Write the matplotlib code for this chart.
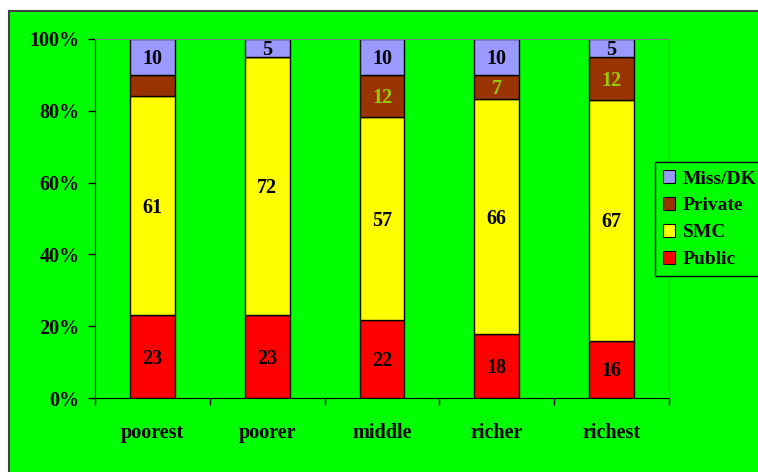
import numpy as np
import matplotlib.pyplot as plt
from matplotlib.patches import Rectangle, Patch

groups = ['poorest', 'poorer', 'middle', 'richer', 'richest']
public = [23, 23, 22, 18, 16]
smc = [61, 72, 57, 66, 67]
private = [6, 0, 12, 7, 12]
missdk = [10, 5, 10, 10, 5]
# which segments carry a value label
private_shown = [False, False, True, True, True]

series = [('Public', public, '#ff0000', 'k'),
          ('SMC', smc, '#ffff00', 'k'),
          ('Private', private, '#993300', '#99cc00'),
          ('Miss/DK', missdk, '#9999ff', 'k')]

plt.rcParams['font.family'] = 'Liberation Serif'
plt.rcParams['font.weight'] = 'bold'
plt.rcParams['font.size'] = 14.5

green = '#00ff00'
fig = plt.figure(figsize=(7.58, 4.72), dpi=100)
fig.patch.set_facecolor('white')
# chart area panel with a dark edge on top and left
fig.patches.append(Rectangle((9 / 758, -0.1), 1.1, 1 - 11 / 472 + 0.1,
                             transform=fig.transFigure, facecolor=green,
                             edgecolor='#404040', lw=1.5, zorder=-10))

ax = fig.add_axes([95 / 758, 1 - 398 / 472, 574 / 758, 359 / 472])
ax.set_facecolor(green)

x = np.arange(len(groups))
totals = np.sum([s[1] for s in series], axis=0)
bottom = np.zeros(len(groups))
for name, vals, col, tcol in series:
    pct = np.array(vals) / totals * 100
    ax.bar(x, pct, 0.39, bottom=bottom, color=col, edgecolor='k', lw=1, label=name, zorder=2)
    for i, v in enumerate(vals):
        if v == 0 or (name == 'Private' and not private_shown[i]):
            continue
        ax.text(x[i], bottom[i] + pct[i] / 2 - 0.6, str(v), ha='center', va='center',
                color=tcol, fontsize=14.5, fontweight='bold', zorder=3)
    bottom += pct

ax.set_xlim(-0.5, len(groups) - 0.5)
ax.set_ylim(0, 100)
ax.set_yticks(np.arange(0, 101, 20))
ax.set_yticklabels([f'{v}%' for v in range(0, 101, 20)])
ax.set_xticks(np.arange(-0.5, len(groups), 1))
ax.set_xticklabels([])
ax.set_xticks(x, minor=True)
ax.set_xticklabels(groups, minor=True)
ax.tick_params(axis='x', which='minor', length=0, pad=18)
ax.tick_params(axis='x', which='major', length=5, width=1)
ax.tick_params(axis='y', length=5, width=1, pad=6)
for sp in ['top', 'right']:
    ax.spines[sp].set_color('#808080')
for sp in ['left', 'bottom']:
    ax.spines[sp].set_color('k')

handles = [Patch(facecolor=c, edgecolor='k', lw=0.8, label=n) for n, _, c, _ in series[::-1]]
ax.legend(handles=handles, loc='upper left', bbox_to_anchor=(654.7 / 758, 1 - 162.3 / 472),
          bbox_transform=fig.transFigure, frameon=True, fancybox=False,
          facecolor=green, edgecolor='k', framealpha=1, borderaxespad=0,
          handlelength=0.62, handleheight=0.62, handletextpad=0.4,
          labelspacing=0.5, borderpad=0.42, prop={'weight': 'bold', 'size': 14})

fig.savefig('out.png', dpi=100, facecolor='white')
